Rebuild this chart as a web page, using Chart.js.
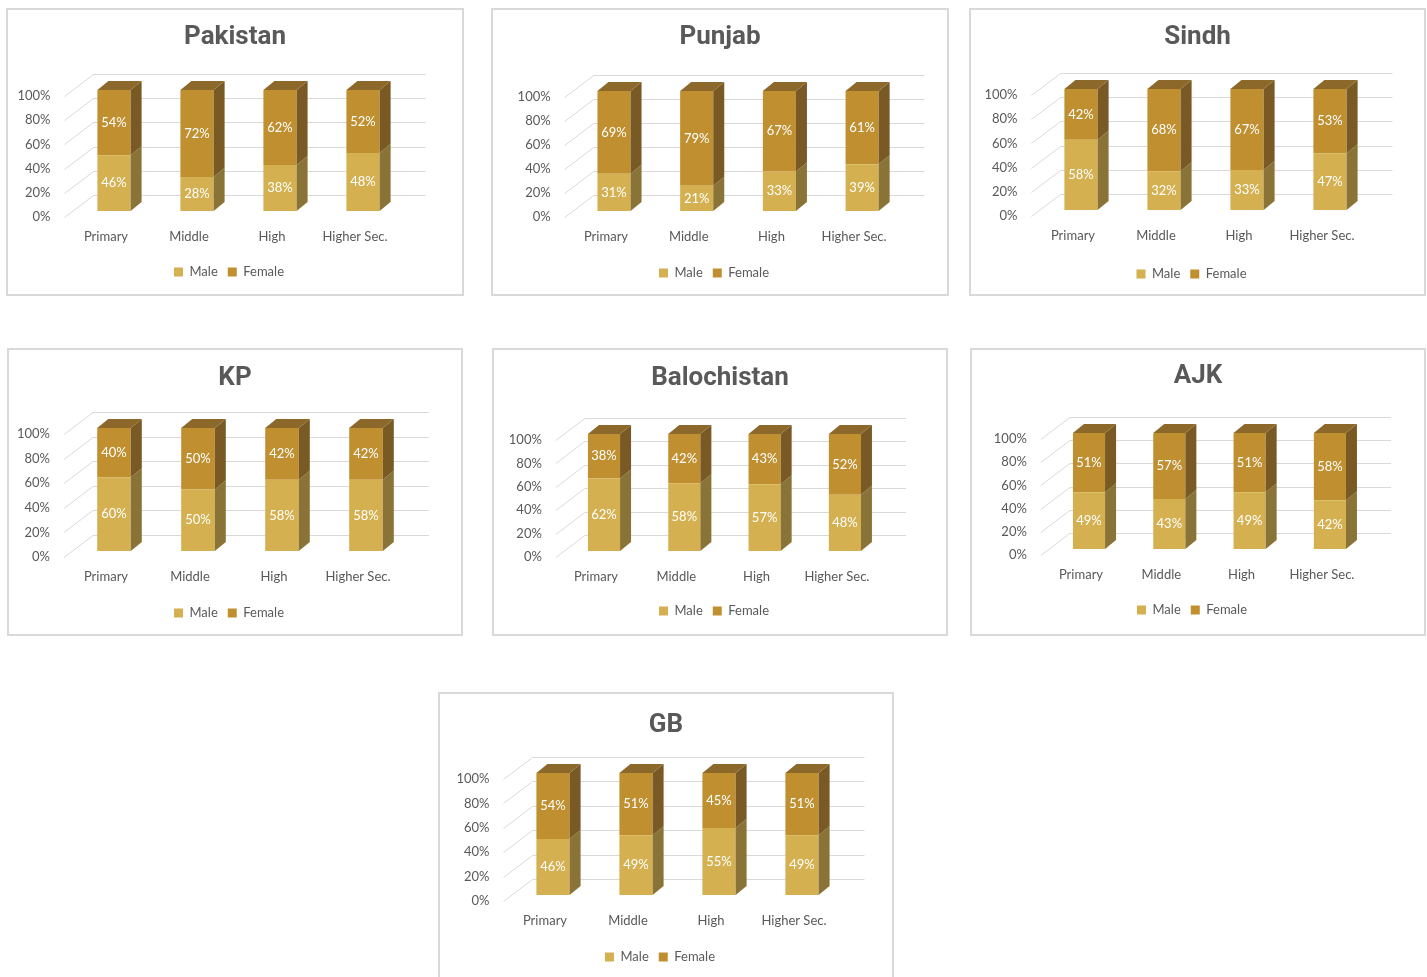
<!DOCTYPE html>
<html>
<head>
<meta charset="utf-8">
<script src="https://cdn.jsdelivr.net/npm/chart.js@4.4.1/dist/chart.umd.min.js"></script>
<style>
  html, body { margin: 0; padding: 0; background: #fff; overflow: hidden; }
  .panel { position: absolute; box-sizing: border-box; border: 2px solid #d9d9d9; background: #fff; }
  .panel canvas { position: absolute; left: 0; top: 0; }
</style>
</head>
<body>
<script>
// categories / ticks
const categories = ['Primary', 'Middle', 'High', 'Higher Sec.'];
const seriesNames = ['Male', 'Female'];
const yTicks = [0, 20, 40, 60, 80, 100];

// values (%) per region
const pakistanMale = [46, 28, 38, 48];
const pakistanFemale = [54, 72, 62, 52];
const punjabMale = [31, 21, 33, 39];
const punjabFemale = [69, 79, 67, 61];
const sindhMale = [58, 32, 33, 47];
const sindhFemale = [42, 68, 67, 53];
const kpMale = [60, 50, 58, 58];
const kpFemale = [40, 50, 42, 42];
const balochistanMale = [62, 58, 57, 48];
const balochistanFemale = [38, 42, 43, 52];
const ajkMale = [49, 43, 49, 42];
const ajkFemale = [51, 57, 51, 58];
const gbMale = [46, 49, 55, 49];
const gbFemale = [54, 51, 45, 51];

const regions = [
  ['Pakistan', pakistanMale, pakistanFemale],
  ['Punjab', punjabMale, punjabFemale],
  ['Sindh', sindhMale, sindhFemale],
  ['KP', kpMale, kpFemale],
  ['Balochistan', balochistanMale, balochistanFemale],
  ['AJK', ajkMale, ajkFemale],
  ['GB', gbMale, gbFemale]
];

// page layout: box [left, top, w, h], first category x, category step, y of 100%, y of 0%, title y, legend y
const panelLayout = [
  {box: [6, 8, 458, 288],   cat0: 106,  step: 83,   y100: 96,  y0: 217, titleY: 34,  legendY: 272},
  {box: [491, 8, 458, 288], cat0: 606,  step: 82.7, y100: 97,  y0: 217, titleY: 34,  legendY: 273},
  {box: [969, 8, 457, 288], cat0: 1073, step: 83,   y100: 95,  y0: 216, titleY: 34,  legendY: 274},
  {box: [7, 348, 456, 288], cat0: 106,  step: 84,   y100: 434, y0: 557, titleY: 375, legendY: 613},
  {box: [492, 348, 456, 288], cat0: 596, step: 80.3, y100: 440, y0: 557, titleY: 375, legendY: 611},
  {box: [970, 348, 456, 288], cat0: 1081, step: 80.3, y100: 439, y0: 555, titleY: 373, legendY: 610},
  {box: [438, 692, 456, 292], cat0: 545, step: 83,   y100: 779, y0: 901, titleY: 722, legendY: 957}
];

const frontColors = ['#d4b050', '#bf8f30'];
const sideColors = ['#8a7336', '#7a5a24'];
const topColor = '#8c682a';
const textGrey = '#595959';

// 3D offsets
const WALL_DX = 29, WALL_DY = -22;
const BAR_DX = 8, BAR_DY = -6;
const DEPTH_DX = 11, DEPTH_DY = -9;
const LEGEND_SHIFT = -6;

function poly(ctx, pts, color) {
  ctx.beginPath();
  ctx.moveTo(pts[0][0], pts[0][1]);
  for (let i = 1; i < pts.length; i++) ctx.lineTo(pts[i][0], pts[i][1]);
  ctx.closePath();
  ctx.fillStyle = color;
  ctx.fill();
}

const depth3d = {
  id: 'depth3d',
  afterLayout(chart) {
    // legend sits a little left of centre in the original
    chart.legend.left += LEGEND_SHIFT;
    chart.legend.right += LEGEND_SHIFT;
  },
  beforeDatasetsDraw(chart) {
    const {ctx, chartArea: a, scales: {y}} = chart;
    ctx.save();
    ctx.strokeStyle = '#d9d9d9';
    ctx.lineWidth = 1;
    yTicks.forEach(v => {
      const py = Math.round(y.getPixelForValue(v)) + 0.5;
      ctx.beginPath();
      ctx.moveTo(a.left, py);
      ctx.lineTo(a.left + WALL_DX, py + WALL_DY);
      ctx.lineTo(a.right + WALL_DX, py + WALL_DY);
      ctx.stroke();
    });
    ctx.restore();
    ctx.save();
    ctx.translate(BAR_DX, BAR_DY);
  },
  afterDatasetsDraw(chart) {
    const ctx = chart.ctx;
    ctx.restore();
    const n = chart.data.datasets.length;
    chart.data.datasets.forEach((ds, di) => {
      chart.getDatasetMeta(di).data.forEach(bar => {
        const xl = bar.x - bar.width / 2 + BAR_DX;
        const xr = bar.x + bar.width / 2 + BAR_DX;
        const yt = bar.y + BAR_DY, yb = bar.base + BAR_DY;
        poly(ctx, [[xr, yt], [xr + DEPTH_DX, yt + DEPTH_DY], [xr + DEPTH_DX, yb + DEPTH_DY], [xr, yb]], sideColors[di]);
        if (di === n - 1) {
          poly(ctx, [[xl, yt], [xl + DEPTH_DX, yt + DEPTH_DY], [xr + DEPTH_DX, yt + DEPTH_DY], [xr, yt]], topColor);
        }
      });
    });
    // value labels
    ctx.save();
    ctx.font = '13px Lato';
    ctx.fillStyle = '#ffffff';
    ctx.textAlign = 'center';
    ctx.textBaseline = 'middle';
    chart.data.datasets.forEach((ds, di) => {
      chart.getDatasetMeta(di).data.forEach((bar, i) => {
        ctx.fillText(ds.data[i] + '%', bar.x + BAR_DX, (bar.y + bar.base) / 2 + BAR_DY);
      });
    });
    ctx.restore();
  }
};

regions.forEach(([name, male, female], k) => {
  const L = panelLayout[k];
  const [left, top, w, h] = L.box;
  const div = document.createElement('div');
  div.className = 'panel';
  div.style.left = left + 'px';
  div.style.top = top + 'px';
  div.style.width = w + 'px';
  div.style.height = h + 'px';
  const canvas = document.createElement('canvas');
  const W = w - 4, H = h - 4;
  canvas.width = W; canvas.height = H;
  canvas.style.width = W + 'px'; canvas.style.height = H + 'px';
  div.appendChild(canvas);
  document.body.appendChild(div);

  const ox = left + 2, oy = top + 2;
  const chartLeft = L.cat0 - L.step / 2 - ox;
  const chartRight = chartLeft + categories.length * L.step;
  const chartTop = L.y100 - oy;
  const chartBottom = L.y0 - oy;
  const titleY = L.titleY - oy + 3;
  const legendTop = L.legendY - oy - 16.5;
  const legendH = 33;
  const padBottom = H - (legendTop + legendH);
  const xAxisH = legendTop - chartBottom;
  const tickFont = {family: 'Lato', size: 13};
  const titleSize = 26, titleHalf = titleSize * 1.2 / 2;

  new Chart(canvas, {
    type: 'bar',
    data: {
      labels: categories,
      datasets: [
        {label: seriesNames[0], data: male, backgroundColor: frontColors[0], barPercentage: 0.4, categoryPercentage: 1},
        {label: seriesNames[1], data: female, backgroundColor: frontColors[1], barPercentage: 0.4, categoryPercentage: 1}
      ]
    },
    options: {
      responsive: false,
      animation: false,
      events: [],
      clip: false,
      layout: {padding: {left: 0, right: 0, top: 0, bottom: padBottom}},
      plugins: {
        title: {
          display: true, text: name, color: textGrey,
          font: {family: 'Roboto', size: titleSize, weight: 'bold'},
          padding: {top: titleY - titleHalf, bottom: chartTop - titleY - titleHalf}
        },
        legend: {
          position: 'bottom',
          labels: {boxWidth: 9, boxHeight: 9, padding: 10, color: textGrey, font: tickFont}
        },
        tooltip: {enabled: false}
      },
      scales: {
        x: {
          stacked: true,
          grid: {display: false, drawTicks: false}, border: {display: false},
          ticks: {color: textGrey, font: tickFont, padding: 12, maxRotation: 0},
          afterFit: s => { s.height = xAxisH; }
        },
        y: {
          stacked: true, min: 0, max: 100,
          grid: {display: false, drawTicks: false}, border: {display: false},
          ticks: {stepSize: 20, padding: 14, color: textGrey, font: tickFont, callback: v => v + '%'},
          afterFit: s => { s.width = chartLeft; }
        },
        yRight: {
          position: 'right', display: true,
          grid: {display: false, drawTicks: false}, border: {display: false},
          ticks: {display: false},
          afterFit: s => { s.width = W - chartRight; }
        }
      }
    },
    plugins: [depth3d]
  });
});
</script>
</body>
</html>
